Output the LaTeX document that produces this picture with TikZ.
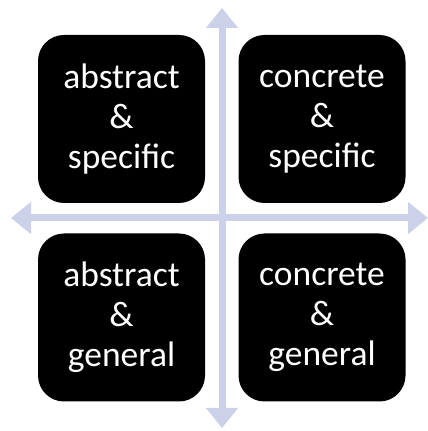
\documentclass[tikz,border=0pt]{standalone}
\usepackage{fontspec}
\setmainfont{Carlito}
\usetikzlibrary{arrows.meta}
\definecolor{axiscol}{RGB}{202,209,232}
\tikzset{
  quad/.style={fill=black, rounded corners=26pt, minimum width=167pt, minimum height=168pt,
    text=white, align=center, inner sep=0pt, font=\fontsize{35.5}{40}\selectfont},
  axis/.style={draw=axiscol, line width=7pt,
    {Triangle[width=31pt,length=20pt]}-{Triangle[width=31pt,length=20pt]}}
}
\begin{document}
\begin{tikzpicture}[x=1pt,y=1pt]
\useasboundingbox (0,0) rectangle (428,431);
\fill[white] (0,0) rectangle (428,431);
\coordinate (top) at (222,423);
\coordinate (bottom) at (222,3);
\coordinate (left) at (11,213);
\coordinate (right) at (428,213);
\draw[axis] (left) -- (right);
\draw[axis] (bottom) -- (top);
\node[quad] (as) at (121.5,312) {abstract\\\&\\specific};
\node[quad] (cs) at (322,312) {concrete\\\&\\specific};
\node[quad] (ag) at (121.5,113.5) {abstract\\\&\\general};
\node[quad] (cg) at (322,113.5) {concrete\\\&\\general};
\end{tikzpicture}
\end{document}
